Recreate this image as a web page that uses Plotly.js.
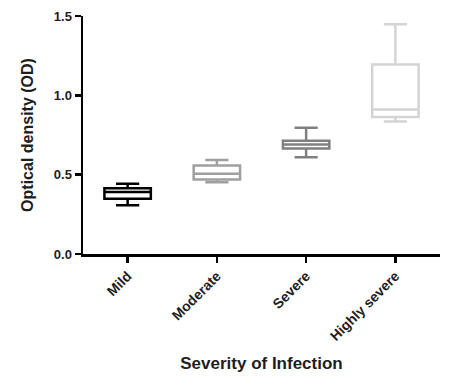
<!DOCTYPE html>
<html>
<head>
<meta charset="utf-8">
<script src="https://cdn.plot.ly/plotly-3.0.1.min.js"></script>
<style>html,body{margin:0;padding:0;background:#fff;}#chart{width:462px;height:387px;}</style>
</head>
<body>
<div id="chart"></div>
<script>
const categories = ["Mild", "Moderate", "Severe", "Highly severe"];
const lowerWhisker = [0.307, 0.452, 0.609, 0.835];
const q1Values = [0.349, 0.469, 0.665, 0.863];
const medianValues = [0.39, 0.506, 0.69, 0.911];
const q3Values = [0.414, 0.558, 0.714, 1.194];
const upperWhisker = [0.443, 0.592, 0.796, 1.448];
const colors = ["#000000", "#a0a0a0", "#808080", "#d4d4d4"];

const traces = categories.map((c, i) => ({
  type: "box",
  x: [c],
  q1: [q1Values[i]],
  median: [medianValues[i]],
  q3: [q3Values[i]],
  lowerfence: [lowerWhisker[i]],
  upperfence: [upperWhisker[i]],
  width: 0.52,
  whiskerwidth: 0.5,
  fillcolor: "rgba(0,0,0,0)",
  line: {color: colors[i], width: 2.5},
  boxpoints: false,
  hoverinfo: "skip",
  showlegend: false
}));

const fam = "Liberation Sans, Arial, sans-serif";
const txt = "#1e1e1e";

const layout = {
  width: 462, height: 387,
  margin: {l: 83, r: 22, t: 16, b: 133},
  paper_bgcolor: "#fff", plot_bgcolor: "#fff",
  boxmode: "overlay",
  font: {family: fam, color: txt, weight: "bold"},
  xaxis: {
    type: "category",
    categoryarray: categories,
    range: [-0.5, 3.5],
    showline: true, linecolor: "#000", linewidth: 2.5,
    ticks: "outside", ticklen: 6, tickwidth: 2.5, tickcolor: "#000",
    tickangle: -45,
    tickfont: {family: fam, size: 14, weight: "bold", color: txt},
    showgrid: false, zeroline: false,
    title: {text: "Severity of Infection", font: {family: fam, size: 17, weight: "bold", color: txt}, standoff: 15}
  },
  yaxis: {
    range: [0, 1.5],
    tickvals: [0, 0.5, 1.0, 1.5],
    ticktext: ["0.0", "0.5", "1.0", "1.5"],
    showline: true, linecolor: "#000", linewidth: 2.5,
    ticks: "outside", ticklen: 6, tickwidth: 2.5, tickcolor: "#000",
    tickfont: {family: fam, size: 13, weight: "bold", color: txt},
    showgrid: false, zeroline: false,
    title: {text: "Optical density (OD)", font: {family: fam, size: 16, weight: "bold", color: txt}, standoff: 16}
  }
};

Plotly.newPlot("chart", traces, layout, {displayModeBar: false, staticPlot: true});
</script>
</body>
</html>
